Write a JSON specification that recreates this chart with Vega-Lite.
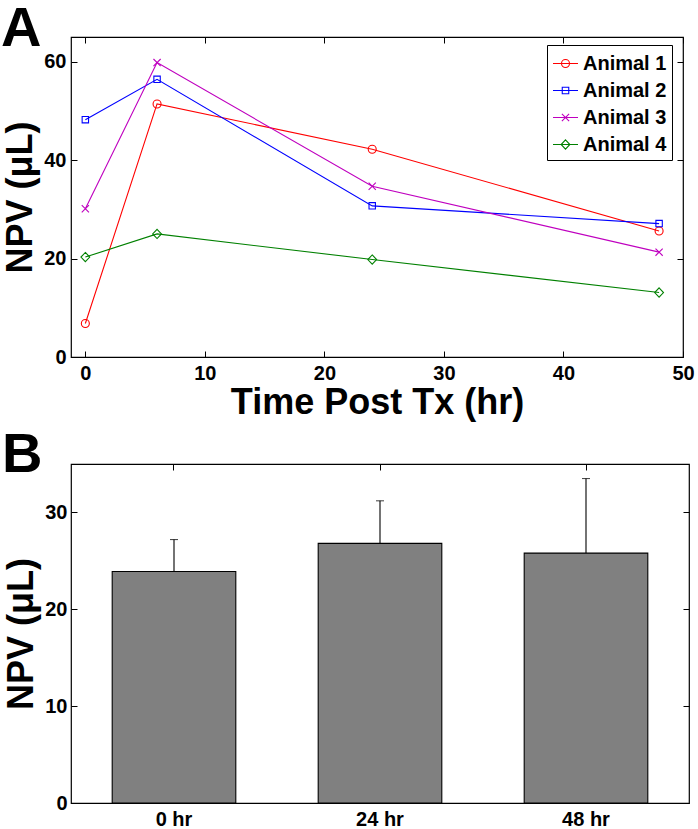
{
  "$schema": "https://vega.github.io/schema/vega-lite/v6.json",
  "padding": {"left": 0, "top": -1, "right": 0, "bottom": 0},
  "background": "white",
  "spacing": 4,
  "config": {
    "font": "Liberation Sans",
    "view": {"stroke": "black", "strokeWidth": 1.2},
    "axis": {
      "domain": false,
      "grid": false,
      "labelFont": "Liberation Sans",
      "labelFontWeight": "bold",
      "labelFontSize": 20,
      "labelColor": "black",
      "labelFlush": false,
      "tickColor": "black",
      "tickSize": -6,
      "tickWidth": 1,
      "titleFont": "Liberation Sans",
      "titleFontWeight": "bold",
      "titleFontSize": 36,
      "titleColor": "black"
    },
    "legend": {
      "orient": "none", "legendX": 476, "legendY": 8, "direction": "vertical", "padding": 5,
      "strokeColor": "black", "fillColor": "white",
      "rowPadding": 3, "labelFontSize": 20, "labelFont": "Liberation Sans", "labelFontWeight": "bold", "labelColor": "black",
      "labelOffset": 4, "symbolSize": 625, "symbolStrokeWidth": 1.1, "symbolOpacity": 1, "symbolFillColor": "transparent"
    }
  },
  "vconcat": [
    {
      "title": {"text": "A", "anchor": "start", "frame": "group", "orient": "top", "fontSize": 56, "fontWeight": "bold", "font": "Liberation Sans", "color": "black", "baseline": "alphabetic", "offset": -55, "dx": -70, "dy": 10},
      "width": 612,
      "height": 320,
      "data": {"values": [
        {"animal": "Animal 1", "time": 0, "npv": 6.8},
        {"animal": "Animal 1", "time": 6, "npv": 51.4},
        {"animal": "Animal 1", "time": 24, "npv": 42.2},
        {"animal": "Animal 1", "time": 48, "npv": 25.6},
        {"animal": "Animal 2", "time": 0, "npv": 48.2},
        {"animal": "Animal 2", "time": 6, "npv": 56.4},
        {"animal": "Animal 2", "time": 24, "npv": 30.7},
        {"animal": "Animal 2", "time": 48, "npv": 27.1},
        {"animal": "Animal 3", "time": 0, "npv": 30.1},
        {"animal": "Animal 3", "time": 6, "npv": 59.8},
        {"animal": "Animal 3", "time": 24, "npv": 34.7},
        {"animal": "Animal 3", "time": 48, "npv": 21.3},
        {"animal": "Animal 4", "time": 0, "npv": 20.3},
        {"animal": "Animal 4", "time": 6, "npv": 25.0},
        {"animal": "Animal 4", "time": 24, "npv": 19.8},
        {"animal": "Animal 4", "time": 48, "npv": 13.1}
      ]},
      "layer": [
        {
          "mark": {"type": "line", "strokeWidth": 1.1},
          "encoding": {
            "x": {"field": "time", "type": "quantitative", "scale": {"domain": [-1.2, 50], "nice": false, "zero": false},
                  "axis": {"values": [0, 10, 20, 30, 40, 50], "title": "Time Post Tx (hr)", "labelPadding": 12, "titlePadding": 2}},
            "y": {"field": "npv", "type": "quantitative", "scale": {"domain": [0, 65], "nice": false},
                  "axis": {"values": [0, 20, 40, 60], "title": "NPV (μL)", "labelPadding": 11, "titlePadding": 4}},
            "color": {"field": "animal", "type": "nominal", "title": null,
                      "scale": {"domain": ["Animal 1", "Animal 2", "Animal 3", "Animal 4"], "range": ["#ff0000", "#0000ff", "#bf00bf", "#008000"]}},
            "detail": {"field": "animal"}
          }
        },
        {
          "transform": [{"filter": "datum.animal === 'Animal 1'"}],
          "mark": {"type": "point", "shape": "M 1 0 A 1 1 0 1 1 -1 0 A 1 1 0 1 1 1 0 Z", "filled": false, "size": 64, "strokeWidth": 1.1, "opacity": 1},
          "encoding": {
            "x": {"field": "time", "type": "quantitative", "axis": null},
            "y": {"field": "npv", "type": "quantitative", "axis": null},
            "color": {"field": "animal", "type": "nominal", "title": null}
          }
        },
        {
          "transform": [{"filter": "datum.animal === 'Animal 2'"}],
          "mark": {"type": "point", "shape": "M -0.8 -0.8 L 0.8 -0.8 L 0.8 0.8 L -0.8 0.8 Z", "filled": false, "size": 64, "strokeWidth": 1.1, "opacity": 1},
          "encoding": {
            "x": {"field": "time", "type": "quantitative", "axis": null},
            "y": {"field": "npv", "type": "quantitative", "axis": null},
            "color": {"field": "animal", "type": "nominal", "title": null}
          }
        },
        {
          "transform": [{"filter": "datum.animal === 'Animal 3'"}],
          "mark": {"type": "point", "shape": "M -0.9 -0.9 L 0.9 0.9 M -0.9 0.9 L 0.9 -0.9", "filled": false, "size": 64, "strokeWidth": 1.1, "opacity": 1},
          "encoding": {
            "x": {"field": "time", "type": "quantitative", "axis": null},
            "y": {"field": "npv", "type": "quantitative", "axis": null},
            "color": {"field": "animal", "type": "nominal", "title": null}
          }
        },
        {
          "transform": [{"filter": "datum.animal === 'Animal 4'"}],
          "mark": {"type": "point", "shape": "M 0 -1.15 L 1.1 0 L 0 1.15 L -1.1 0 Z", "filled": false, "size": 64, "strokeWidth": 1.1, "opacity": 1},
          "encoding": {
            "x": {"field": "time", "type": "quantitative", "axis": null},
            "y": {"field": "npv", "type": "quantitative", "axis": null},
            "color": {"field": "animal", "type": "nominal", "title": null}
          }
        },
        {
          "mark": {"type": "point", "filled": false, "opacity": 0},
          "encoding": {
            "x": {"field": "time", "type": "quantitative", "axis": {"orient": "top", "values": [0, 10, 20, 30, 40, 50], "labels": false, "title": null}},
            "y": {"field": "npv", "type": "quantitative", "axis": {"orient": "right", "values": [0, 20, 40, 60], "labels": false, "title": null}},
            "color": {"field": "animal", "type": "nominal", "title": null},
            "shape": {"field": "animal", "type": "nominal", "title": null,
                      "scale": {"domain": ["Animal 1", "Animal 2", "Animal 3", "Animal 4"],
                                "range": [
                                  "M -1 0 L 1 0 M 0.32 0 A 0.32 0.32 0 1 1 -0.32 0 A 0.32 0.32 0 1 1 0.32 0 Z",
                                  "M -1 0 L 1 0 M -0.26 -0.26 L 0.26 -0.26 L 0.26 0.26 L -0.26 0.26 Z",
                                  "M -1 0 L 1 0 M -0.29 -0.29 L 0.29 0.29 M -0.29 0.29 L 0.29 -0.29",
                                  "M -1 0 L 1 0 M 0 -0.37 L 0.35 0 L 0 0.37 L -0.35 0 Z"]}}
          }
        }
      ],
      "resolve": {"axis": {"x": "independent", "y": "independent"}}
    },
    {
      "title": {"text": "B", "anchor": "start", "frame": "group", "orient": "top", "fontSize": 56, "fontWeight": "bold", "font": "Liberation Sans", "color": "black", "baseline": "alphabetic", "offset": -55, "dx": -69, "dy": 9},
      "width": 618,
      "height": 339,
      "data": {"values": [
        {"time": "0 hr", "npv": 23.9, "upper": 27.2},
        {"time": "24 hr", "npv": 26.8, "upper": 31.2},
        {"time": "48 hr", "npv": 25.8, "upper": 33.5}
      ]},
      "layer": [
        {
          "mark": {"type": "rule", "color": "black", "strokeWidth": 1.1},
          "encoding": {
            "x": {"field": "time", "type": "nominal", "sort": null, "scale": {"type": "band", "paddingInner": 0.4, "paddingOuter": 0.2},
                  "axis": {"title": null, "labelAngle": 0, "ticks": false, "labelPadding": 6}},
            "y": {"field": "npv", "type": "quantitative", "scale": {"domain": [0, 35], "nice": false},
                  "axis": {"values": [0, 10, 20, 30], "title": "NPV (μL)", "labelPadding": 10, "titlePadding": 4}},
            "y2": {"field": "upper"}
          }
        },
        {
          "mark": {"type": "tick", "color": "black", "thickness": 1.1, "size": 8},
          "encoding": {
            "x": {"field": "time", "type": "nominal", "sort": null, "axis": null},
            "y": {"field": "upper", "type": "quantitative", "axis": null}
          }
        },
        {
          "mark": {"type": "bar", "fill": "#808080", "stroke": "black", "strokeWidth": 1.1},
          "encoding": {
            "x": {"field": "time", "type": "nominal", "sort": null, "axis": null},
            "y": {"field": "npv", "type": "quantitative", "axis": null}
          }
        },
        {
          "mark": {"type": "point", "opacity": 0},
          "encoding": {
            "x": {"field": "time", "type": "nominal", "sort": null, "axis": {"orient": "top", "labels": false, "title": null}},
            "y": {"field": "npv", "type": "quantitative", "axis": {"orient": "right", "values": [0, 10, 20, 30], "labels": false, "title": null}}
          }
        }
      ],
      "resolve": {"axis": {"x": "independent", "y": "independent"}}
    }
  ]
}
